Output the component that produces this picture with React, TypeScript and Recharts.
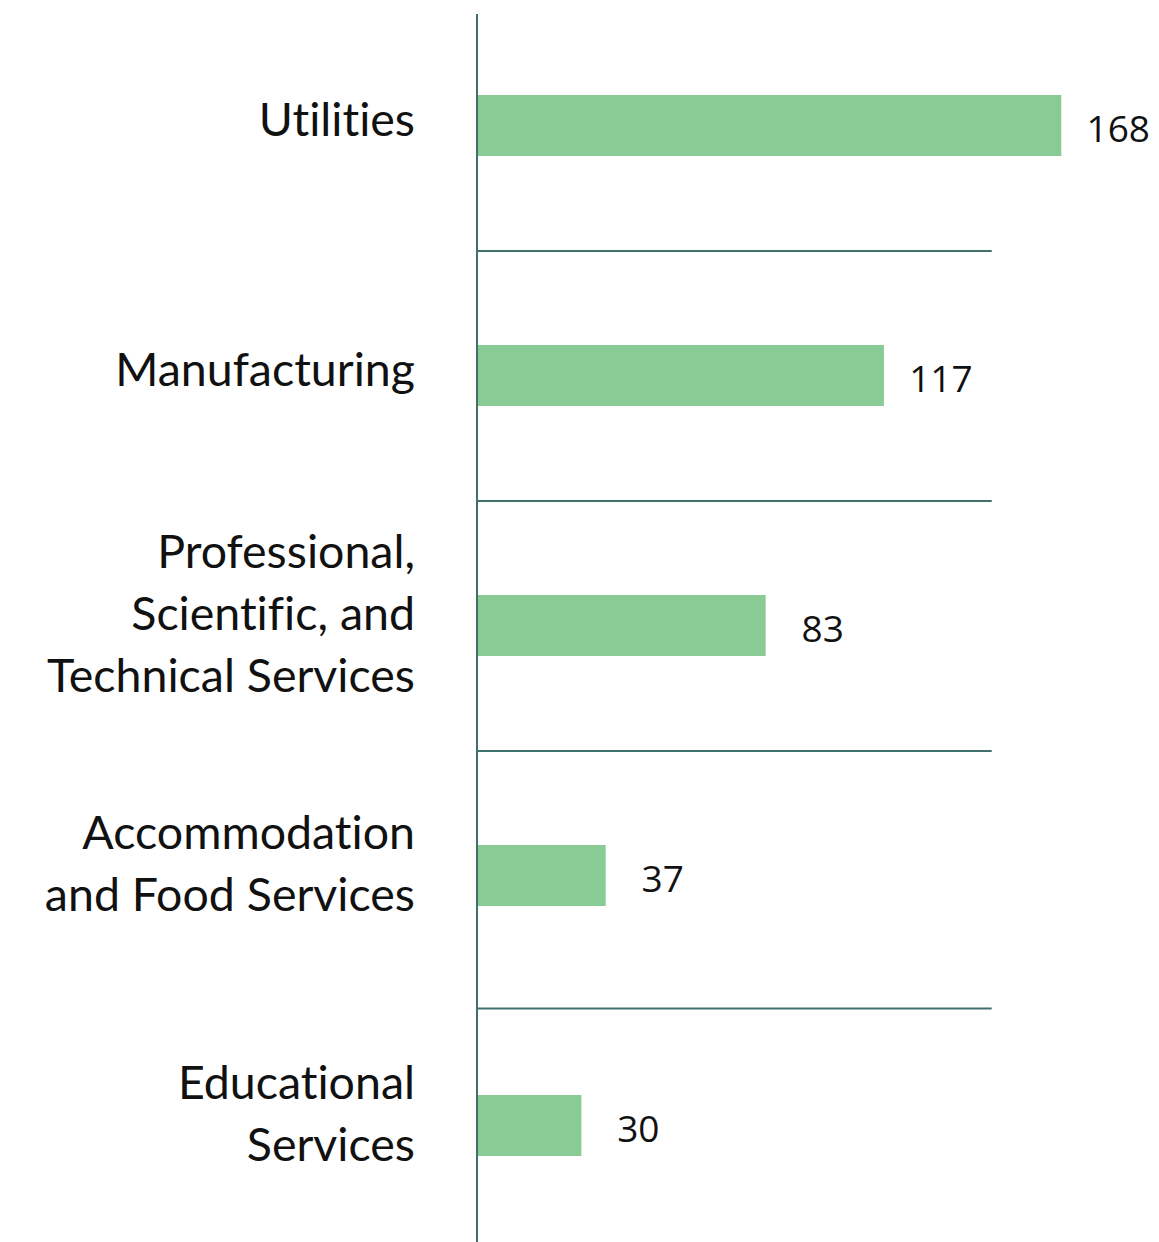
import React from 'react';
import { BarChart, Bar, XAxis, YAxis, ReferenceLine } from 'recharts';

const categories = [
  'Utilities',
  'Manufacturing',
  'Professional, Scientific, and Technical Services',
  'Accommodation and Food Services',
  'Educational Services',
];
const labelLines = [
  ['Utilities'],
  ['Manufacturing'],
  ['Professional,', 'Scientific, and', 'Technical Services'],
  ['Accommodation', 'and Food Services'],
  ['Educational', 'Services'],
];
const values = [168, 117, 83, 37, 30];
const separators = [1, 2, 3, 4.03];
const separatorEnd = 148;

const data = categories.map((name, i) => ({ name, value: values[i], pos: i + 0.5 }));
const tickValues = data.map(d => d.pos);

const LINE_COLOR = '#41706c';
const BAR_COLOR = '#88cb95';

const CategoryTick = ({ x, y, payload }: { x?: number; y?: number; payload?: { value: number } }) => {
  const idx = Math.floor(payload?.value ?? 0);
  const lines = labelLines[idx] || [];
  const lh = 62;
  const start = -((lines.length - 1) * lh) / 2 - (lines.length > 1 ? 14 : 8);
  const tx = (x ?? 0) - 54;
  return (
    <text
      x={tx}
      y={y}
      textAnchor="end"
      fontFamily="Lato"
      fontSize={46.5}
      fill="#111"
      style={{ fontVariantLigatures: 'none' }}
    >
      {lines.map((l, i) => (
        <tspan key={i} x={tx} y={(y ?? 0) + start + i * lh} dominantBaseline="central">
          {l}
        </tspan>
      ))}
    </text>
  );
};

const ValueLabel = (props: any) => {
  const { x, y, width, height, value } = props;
  return (
    <text
      x={x + width + 57}
      y={y + height / 2 + 2}
      textAnchor="middle"
      dominantBaseline="central"
      fontFamily="Open Sans"
      fontSize={37}
      fill="#111"
    >
      {value}
    </text>
  );
};

export default function App() {
  return (
    <div style={{ position: 'absolute', left: 0, top: 0, background: '#fff' }}>
      <BarChart
        width={1159}
        height={1251}
        data={data}
        layout="vertical"
        margin={{ top: 1, right: 56, bottom: 0, left: 0 }}
      >
        <XAxis type="number" domain={[0, 180]} hide />
        <YAxis
          type="number"
          dataKey="pos"
          domain={[0, 5]}
          ticks={tickValues}
          width={477}
          axisLine={false}
          tickLine={false}
          tick={<CategoryTick />}
          interval={0}
        />
        <Bar dataKey="value" fill={BAR_COLOR} barSize={61} isAnimationActive={false} label={<ValueLabel />} />
        {separators.map(s => (
          <ReferenceLine
            key={s}
            segment={[{ x: 0, y: s }, { x: separatorEnd, y: s }]}
            stroke={LINE_COLOR}
            strokeWidth={2}
          />
        ))}
        <ReferenceLine segment={[{ x: 0, y: 0.052 }, { x: 0, y: 5 }]} stroke={LINE_COLOR} strokeWidth={2} />
      </BarChart>
    </div>
  );
}
